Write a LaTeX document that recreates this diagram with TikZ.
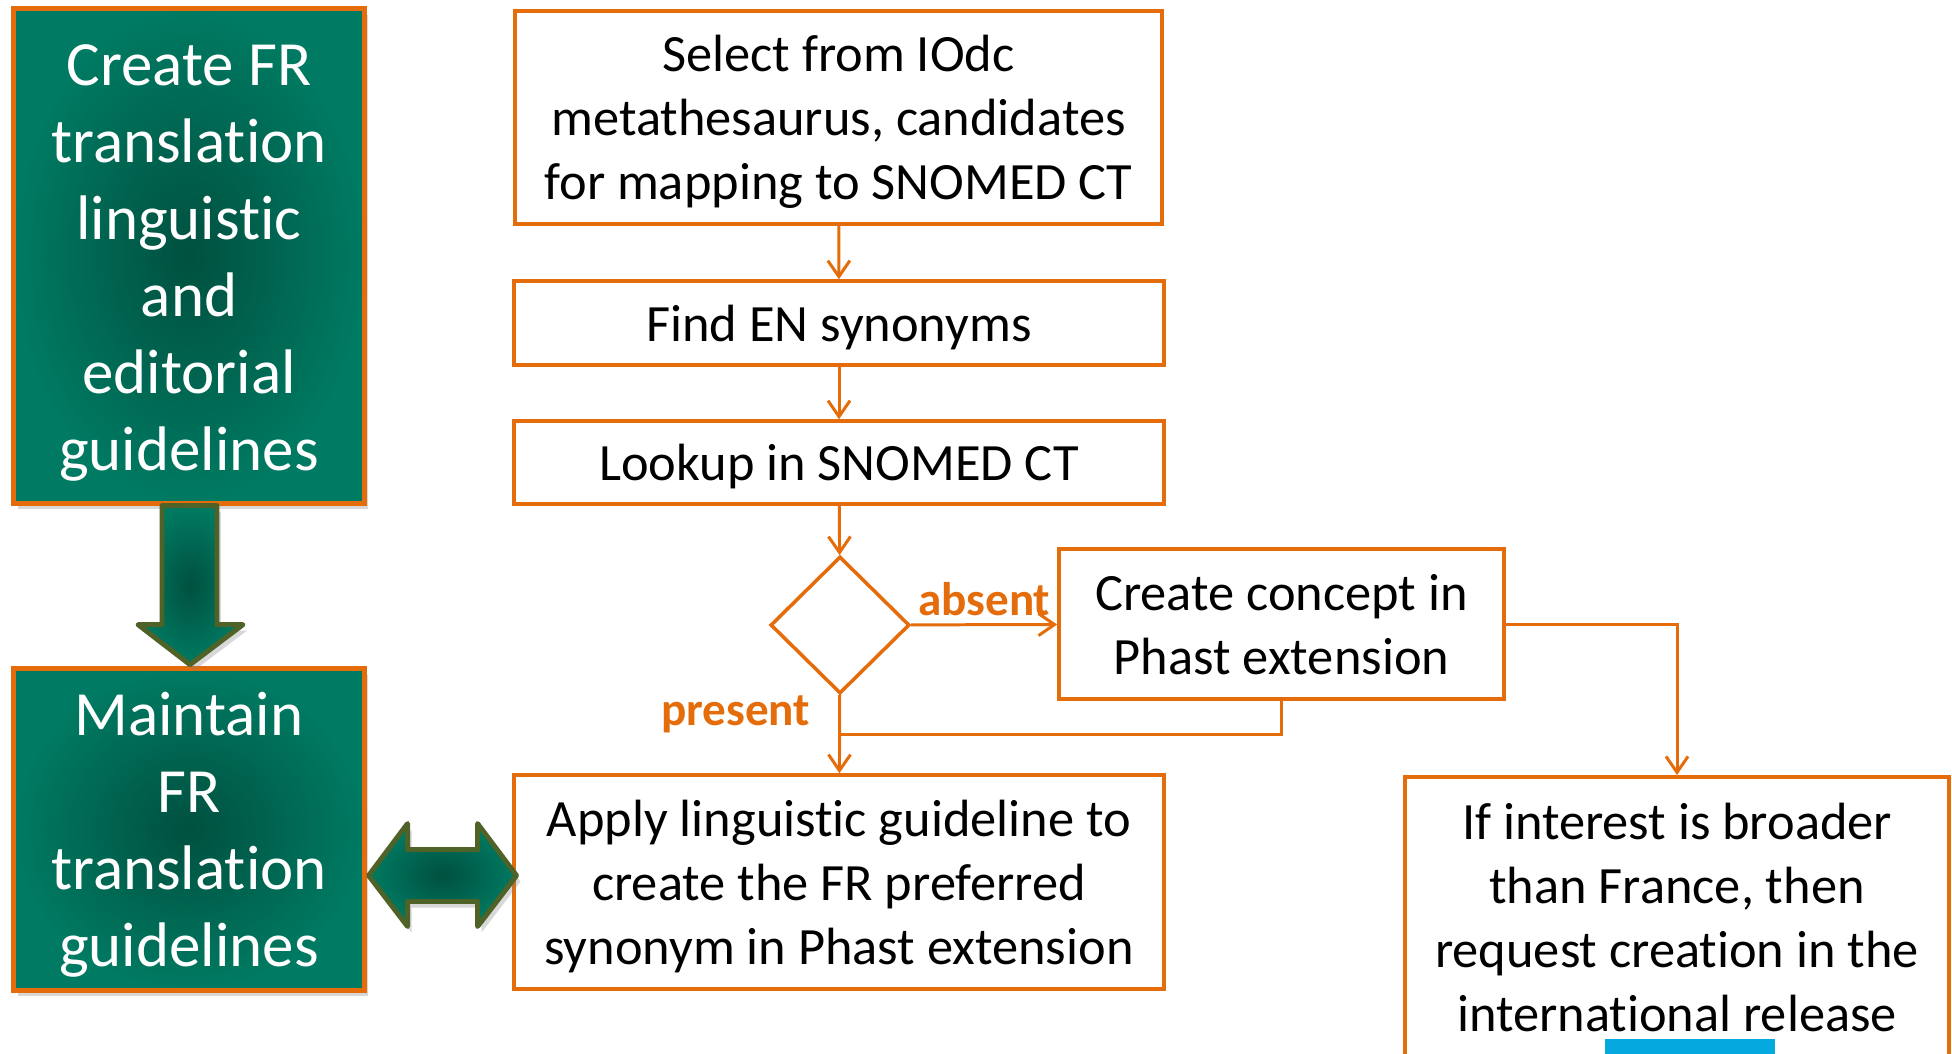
\documentclass[tikz,border=0pt]{standalone}
\usepackage{fontspec}
\setmainfont{Carlito}[Ligatures=NoCommon]
\usepackage{tikz}
\usetikzlibrary{shapes.geometric, arrows.meta, shadows, calc}
\usepackage{xcolor}
\definecolor{flowor}{HTML}{E46C0A}
\definecolor{arrowgreen}{HTML}{4F6228}
\definecolor{darkgr}{HTML}{00503F}
\definecolor{lightgr}{HTML}{007A62}
\definecolor{barblue}{HTML}{05A8DF}
\newcommand{\linestrut}{\rule[-0.26em]{0pt}{1.21em}}
\tikzstyle{arrow} = [draw=flowor, line width=0.85pt, -{Straight Barb[length=0.16cm,width=0.22cm]}]
\tikzstyle{link} = [draw=flowor, line width=0.85pt]

\begin{document}
\begin{tikzpicture}
        [
            x=0.01cm, y=-0.01cm,
            box/.style={rectangle, draw=flowor, line width=1pt, fill=white, align=flush center, text width=6.2cm, inner sep=0pt, font=\fontsize{14.9}{18.2}\selectfont, execute at begin node=\linestrut, execute at end node=\linestrut},
            gbox/.style={rectangle, draw=flowor, line width=1.4pt, shading=radial, inner color=darkgr, outer color=lightgr, text=white, align=flush center, text width=3.3cm, inner sep=0pt, minimum width=3.5cm, font=\fontsize{17.9}{21.9}\selectfont, execute at begin node=\linestrut, execute at end node=\linestrut, drop shadow={opacity=0.3, shadow xshift=0.04cm, shadow yshift=-0.06cm}},
            blockarrow/.style={draw=arrowgreen, line width=1.4pt, line join=round, shading=radial, inner color=darkgr, outer color=lightgr, drop shadow={opacity=0.3, shadow xshift=0.04cm, shadow yshift=-0.06cm}},
            lbl/.style={text=flowor, inner sep=1pt, font=\fontsize{13.4}{16}\selectfont\bfseries},
        ]
    \path[use as bounding box, fill=white] (0,0) rectangle (1952,1053);

    % guideline boxes
    \node[gbox, minimum height=4.94cm] (create) at (189,256) {Create FR\\translation\\linguistic\\and\\editorial\\guidelines};
    \node[gbox, minimum height=3.21cm] (maintain) at (189,829.5) {Maintain\\FR\\translation\\guidelines};

    % process boxes
    \node[box, minimum width=6.47cm, minimum height=2.13cm] (select) at (838.5,117.5) {Select from IOdc\\metathesaurus, candidates\\for mapping to SNOMED CT};
    \node[box, minimum width=6.50cm, minimum height=0.84cm] (find) at (839,323) {Find EN synonyms};
    \node[box, minimum width=6.50cm, minimum height=0.83cm] (lookup) at (839,462.5) {Lookup in SNOMED CT};
    \node[diamond, draw=flowor, line width=1pt, minimum width=1.39cm, minimum height=1.37cm, inner sep=0pt] (test) at (840,625) {};
    \node[box, text width=4.2cm, minimum width=4.45cm, minimum height=1.50cm] (concept) at (1281.5,624) {Create concept in\\Phast extension};
    \node[box, minimum width=6.50cm, minimum height=2.14cm] (apply) at (839,882) {Apply linguistic guideline to\\create the FR preferred\\synonym in Phast extension};
    \node[box, text width=5.2cm, anchor=north, minimum width=5.44cm, minimum height=2.82cm] (request) at (1677,775) {If interest is broader\\than France, then\\request creation in the\\international release};
    \node[fill=barblue, inner sep=0pt, anchor=north, minimum width=1.70cm, minimum height=0.3cm] (bar) at (1690,1038) {};

    % block arrows
    \draw[blockarrow] ([xshift=-0.27cm]create.south) -- ++(0,119) -- ++(-24,0) -- ++(52,40) -- ++(53,-40) -- ++(-26,0) -- ++(0,-119) -- cycle;
    \draw[blockarrow] ([shift={(2,46)}]maintain.east) -- ++(39,-52) -- ++(0,26) -- ++(70,0) -- ++(0,-26) -- ++(39,52) -- ++(-39,51) -- ++(0,-25) -- ++(-70,0) -- ++(0,25) -- cycle;

    % connectors
    \coordinate (join) at ($(test.south)!0.5!(apply.north)$);
    \draw[arrow] (select) -- (find);
    \draw[arrow] (find) -- (lookup);
    \draw[arrow] (lookup) -- (test);
    \draw[arrow] (test) -- node[lbl, above=1pt] {absent} (concept);
    \draw[arrow] (test) -- node[lbl, left=7pt, pos=0.25] {present} (apply);
    \draw[link] (concept.south) |- (join);
    \draw[arrow] (concept.east) -| (request.north);
    \end{tikzpicture}
\end{document}
